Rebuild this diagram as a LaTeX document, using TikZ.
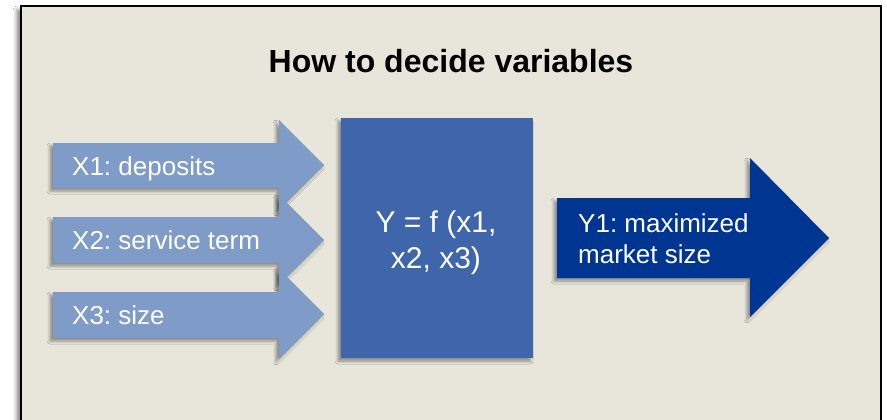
\documentclass[tikz,border=0pt]{standalone}
\usepackage{fontspec}
\setmainfont{Liberation Sans}
\usetikzlibrary{shadows.blur}
\definecolor{panelbg}{HTML}{E8E5DA}
\definecolor{lightarrow}{HTML}{7F9BC8}
\definecolor{midblue}{HTML}{3F65AA}
\definecolor{darkblue}{HTML}{003591}
\tikzset{
  softshadow/.style={blur shadow={shadow xshift=-3pt, shadow yshift=-3pt, shadow blur radius=3pt, shadow opacity=40}},
  inarrow/.style={fill=lightarrow, softshadow},
  intext/.style={text=white, anchor=base west, inner sep=0pt, font=\fontsize{26}{31}\selectfont},
  boxtext/.style={text=white, anchor=base, inner sep=0pt, font=\fontsize{30}{36}\selectfont},
}
\frenchspacing
\begin{document}
\frenchspacing
\begin{tikzpicture}[x=1pt, y=-1pt]
\useasboundingbox (0,0) rectangle (887,420);
\fill[white] (0,0) rectangle (887,420);
% panel
\path[fill=panelbg, draw=black, line width=2.5pt, blur shadow={shadow xshift=-4pt, shadow yshift=-4pt, shadow blur radius=4pt, shadow opacity=50}] (21,6) rectangle (881,440);
% title
\node[anchor=base, inner sep=0pt, font=\fontsize{32}{38}\selectfont\bfseries] (title) at (451,73) {How to decide variables};
% input arrows
\path[inarrow] (53,143) -- (279,143) -- (279,120) -- (324,165) -- (279,210) -- (279,188) -- (53,188) -- cycle;
\path[inarrow] (53,217) -- (279,217) -- (279,195) -- (324,240) -- (279,285) -- (279,263) -- (53,263) -- cycle;
\path[inarrow] (53,292) -- (279,292) -- (279,269) -- (324,314) -- (279,359) -- (279,338) -- (53,338) -- cycle;
\node[intext] (x1) at (72,175) {X1: deposits};
\node[intext] (x2) at (72,249.5) {X2: service term};
\node[intext] (x3) at (72,324) {X3: size};
% center box
\path[fill=midblue, softshadow] (341,118) rectangle (533,358);
\node[boxtext] (f1) at (436,232) {Y = f (x1,};
\node[boxtext] (f2) at (436,268) {x2, x3)};
% output arrow
\path[fill=darkblue, softshadow] (557,198) -- (750,198) -- (750,158) -- (829,238) -- (750,317) -- (750,278) -- (557,278) -- cycle;
\node[intext] (y1a) at (578,232) {Y1: maximized};
\node[intext] (y1b) at (578,263) {market size};
\end{tikzpicture}
\end{document}
